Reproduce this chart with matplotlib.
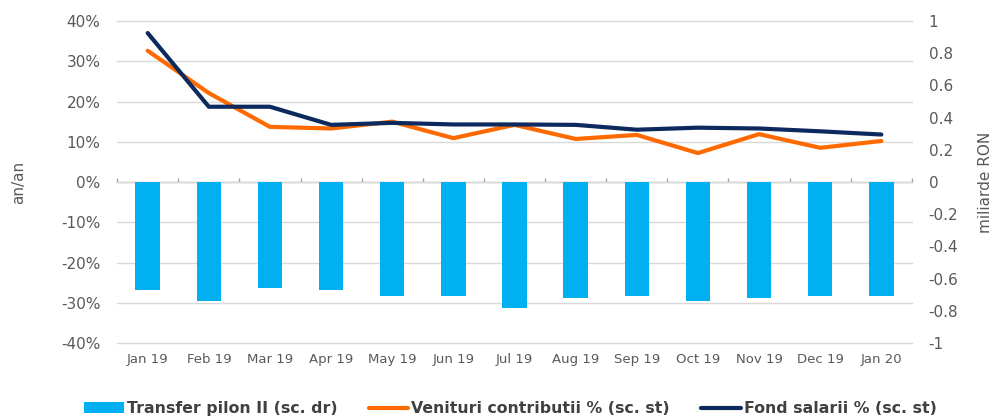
import matplotlib.pyplot as plt
import numpy as np

# Monthly data, Jan 2019 - Jan 2020
months = ['Jan 19', 'Feb 19', 'Mar 19', 'Apr 19', 'May 19', 'Jun 19', 'Jul 19',
          'Aug 19', 'Sep 19', 'Oct 19', 'Nov 19', 'Dec 19', 'Jan 20']

# Transfer pilon II, miliarde RON (right scale)
transfer = [-0.67, -0.74, -0.66, -0.67, -0.71, -0.71, -0.78,
            -0.72, -0.71, -0.74, -0.72, -0.71, -0.71]

# Venituri contributii, % an/an (left scale)
venituri = [32.6, 22.1, 13.7, 13.3, 15.0, 10.9, 14.2,
            10.7, 11.7, 7.2, 11.9, 8.5, 10.2]

# Fond salarii, % an/an (left scale)
fond = [37.0, 18.7, 18.7, 14.2, 14.7, 14.3, 14.3,
        14.2, 13.0, 13.5, 13.3, 12.6, 11.8]

gray = '#595959'
x = np.arange(len(months))

fig = plt.figure(figsize=(10.01, 4.19), dpi=100)
ax = fig.add_axes([0.117, 0.181, 0.794, 0.769])
ax2 = ax.twinx()

# lines on the left axis
l1, = ax.plot(x, venituri, color='#FF6A00', lw=3, solid_capstyle='round')
l2, = ax.plot(x, fond, color='#0D2A5E', lw=3, solid_capstyle='round')
ax.set_ylim(-40, 40)
ax.set_yticks(np.arange(-40, 41, 10))
ax.set_yticklabels([f'{v}%' for v in range(-40, 41, 10)])
ax.set_xlim(-0.5, len(months) - 0.5)
ax.set_xticks(x)
ax.set_xticklabels(months)
ax.grid(axis='y', color='#d9d9d9', lw=1)
for gl in ax.get_ygridlines():
    gl.set_clip_on(False)
ax.set_axisbelow(True)
ax.tick_params(axis='y', length=0, pad=12, labelsize=11, labelcolor=gray)
ax.tick_params(axis='x', length=0, pad=7, labelsize=9.5, labelcolor=gray)
ax.set_ylabel('an/an', color=gray, fontsize=11, labelpad=25)

# bars on the right axis
b = ax2.bar(x, transfer, width=0.4, color='#00B0F0')
ax2.set_ylim(-1, 1)
ax2.set_yticks(np.round(np.arange(-1, 1.01, 0.2), 1))
ax2.set_yticklabels(['-1', '-0.8', '-0.6', '-0.4', '-0.2', '0',
                     '0.2', '0.4', '0.6', '0.8', '1'])
ax2.tick_params(axis='y', length=0, pad=12, labelsize=11, labelcolor=gray)
ax2.set_ylabel('miliarde RON', color=gray, fontsize=11, labelpad=14)

for a in (ax, ax2):
    for s in a.spines.values():
        s.set_visible(False)

# zero line with category boundary ticks
zx = ax.secondary_xaxis(0.5)
zx.set_xticks(np.arange(-0.5, len(months), 1.0))
zx.set_xticklabels([])
zx.tick_params(length=3, color='#a6a6a6', width=1)
zx.spines['bottom'].set_color('#a6a6a6')

fig.legend([b, l1, l2],
           ['Transfer pilon II (sc. dr)', 'Venituri contributii % (sc. st)',
            'Fond salarii % (sc. st)'],
           loc='center', bbox_to_anchor=(0.51, 0.025), ncol=3, frameon=False,
           handlelength=2.5, handletextpad=0.2, columnspacing=2.0,
           prop={'weight': 'bold', 'size': 11.3}, labelcolor='#404040')

fig.savefig('out.png', dpi=100)
